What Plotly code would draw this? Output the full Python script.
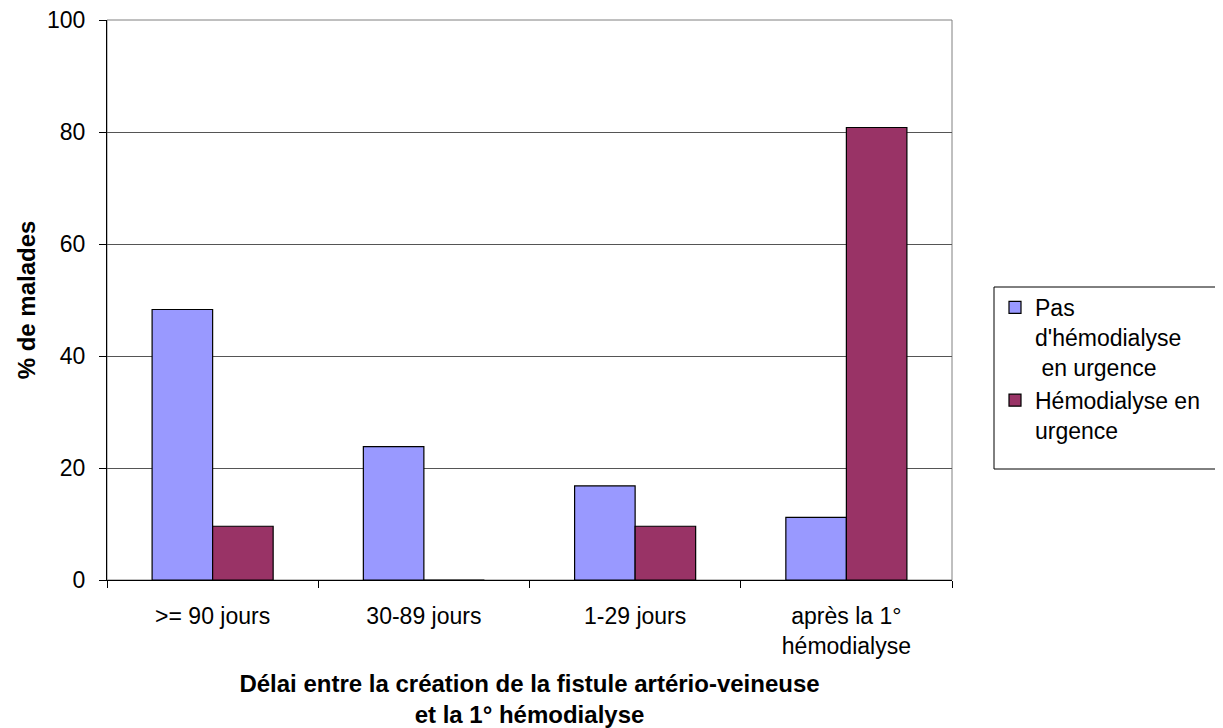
import plotly.graph_objects as go

categories = [">= 90 jours", "30-89 jours", "1-29 jours", "après la 1°<br>hémodialyse"]
pas_urgence = [48.3, 23.8, 16.8, 11.2]
urgence = [9.6, 0, 9.6, 80.8]
series_names = ["Pas<br>d'hémodialyse<br> en urgence", "Hémodialyse en<br>urgence"]
y_ticks = [0, 20, 40, 60, 80, 100]

FONT = "Liberation Sans, Arial, sans-serif"

fig = go.Figure()
fig.add_trace(go.Bar(x=categories, y=pas_urgence, name=series_names[0],
                     marker=dict(color="#9999FF", line=dict(color="black", width=1.2))))
fig.add_trace(go.Bar(x=categories, y=urgence, name=series_names[1],
                     marker=dict(color="#993366", line=dict(color="black", width=1.2))))

# page body has an 8px margin; compensate so the plot lands where the reference has it
OFF = 8
W, H = 1223 - OFF, 728 - OFF
L, T = 107 - OFF, 20 - OFF
PW, PH = 845, 560
R, B = W - L - PW, H - T - PH

def px_x(x):
    return (x - OFF - L) / PW

def px_y(y):
    return (T + PH - (y - OFF)) / PH

fig.update_layout(
    width=W, height=H,
    margin=dict(l=L, r=R, t=T, b=B, autoexpand=False),
    paper_bgcolor="white", plot_bgcolor="white",
    font=dict(family=FONT, size=23, color="black"),
    barmode="group", bargap=0.427, bargroupgap=0,
    showlegend=True,
    legend=dict(x=px_x(995), xanchor="left",
                y=px_y(286), yanchor="top",
                borderwidth=0, bgcolor="rgba(0,0,0,0)",
                valign="top", tracegroupgap=24,
                font=dict(family=FONT, size=23, color="black")),
    xaxis=dict(type="category", showline=True, linecolor="black", linewidth=1,
               ticks="outside", tickson="boundaries", ticklen=7, tickcolor="black",
               showgrid=False, ticklabelstandoff=15,
               tickfont=dict(family=FONT, size=23),
               title=dict(text="<b>Délai entre la création de la fistule artério-veineuse<br>et la 1° hémodialyse</b>",
                          font=dict(family=FONT, size=24), standoff=21)),
    yaxis=dict(range=[0, 100], tickvals=y_ticks, showline=True, linecolor="black", linewidth=1,
               ticks="outside", ticklen=7, tickcolor="black", ticklabelstandoff=9,
               ticklabeloverflow="allow",
               showgrid=True, gridcolor="#555555", gridwidth=1, zeroline=False,
               tickfont=dict(family=FONT, size=23),
               title=dict(text="<b>% de malades</b>", font=dict(family=FONT, size=24), standoff=4)),
    shapes=[
        dict(type="rect", xref="paper", yref="paper", x0=0, x1=1, y0=0, y1=1,
             line=dict(color="#808080", width=1), layer="below"),
        dict(type="rect", xref="paper", yref="paper",
             x0=px_x(994), x1=px_x(1221),
             y0=px_y(469), y1=px_y(287),
             line=dict(color="black", width=1), layer="below"),
    ],
)

fig.write_html("out.html")
